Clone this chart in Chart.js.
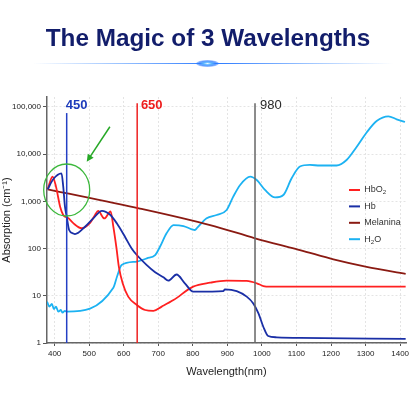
<!DOCTYPE html>
<html><head><meta charset="utf-8">
<script src="https://cdn.jsdelivr.net/npm/chart.js@4.4.1/dist/chart.umd.min.js"></script>
<style>
html,body{margin:0;padding:0;background:#fff;}
#wrap{position:relative;width:416px;height:416px;overflow:hidden;background:#fff;}
#title{position:absolute;left:0;top:23px;width:416px;text-align:center;font:bold 24.3px "Liberation Sans",Arial,sans-serif;color:#121d6b;line-height:30px;white-space:nowrap;}
#glow{position:absolute;left:33px;top:63px;width:360px;height:1px;background:linear-gradient(90deg,rgba(90,160,255,0),rgba(80,150,255,0.6) 25%,rgba(40,120,255,1) 50%,rgba(80,150,255,0.6) 75%,rgba(90,160,255,0));}
#glowdot{position:absolute;left:196px;top:60px;width:23px;height:7px;border-radius:50%;background:radial-gradient(ellipse at center,rgba(235,250,255,1) 0%,rgba(90,180,255,1) 25%,rgba(40,120,255,0.75) 50%,rgba(40,120,255,0) 90%);}
canvas{position:absolute;left:0;top:0;}
</style></head>
<body>
<div id="wrap">
<canvas id="c" width="416" height="416"></canvas>
<div id="title">The Magic of 3 Wavelengths</div>
<div id="glow"></div><div id="glowdot"></div>
</div>
<script>
// ---- data ----
const wavelengthTicks = [400,500,600,700,800,900,1000,1100,1200,1300,1400];
const absorptionTicks = [1,10,100,1000,10000,100000];

const hbo2Wavelength = [380,394,404,416,425,440,454,478,502,517,526,544,562,570,579,586,597,613,638,662,686,710,744,801,850,898,956,985,1004,1023,1081,1255,1416];
const hbo2Absorption = [1800,3350,2050,770,515,440,345,270,345,515,625,435,610,290,103,41,18.4,9.6,6.4,5.0,4.8,5.9,8.1,15.6,18.9,20.9,20.6,18.4,16.1,15.6,15.6,15.6,15.6];

const hbWavelength = [380,396,420,425,430,435,442,454,459,488,512,537,560,580,604,623,638,666,691,715,729,753,777,801,811,888,893,927,956,975,990,1004,1018,1043,1110,1416];
const hbAbsorption = [1800,2930,3900,2050,770,475,247,208,203,290,437,630,525,343,176,100,73,45,31.4,24.6,20.9,28.2,18.4,12.2,12.2,12.6,13.7,12.6,9.6,6.9,4.26,2.21,1.41,1.32,1.28,1.22];

const melaninWavelength = [380,647,850,980,1052,1110,1207,1303,1416];
const melaninAbsorption = [1800,705,315,165,119,93,59,41,29];

const h2oWavelength = [378,385,392,398,404,411,418,423,430,435,570,581,594,638,667,691,705,724,744,773,797,806,813,840,869,898,917,937,966,985,1009,1038,1062,1086,1110,1139,1168,1216,1245,1274,1303,1332,1366,1390,1414];
const h2oAbsorption = [7.5,5.9,6.7,5.2,5.9,4.6,5.0,4.4,4.8,4.6,14.8,26,45,53,62,73,109,210,315,300,256,247,277,437,514,656,1254,2220,3330,2830,1740,1210,1360,3080,5470,5890,5740,5740,7500,14150,28700,50250,63200,54600,47900];

const markerLabels = ['450','650','980'];
const markerWavelength = [435,639,980];
const markerTop = [74000,120000,120000];
const markerLabelLevel = 110000;

const seriesLabels = ['HbO₂','Hb','Melanina','H₂O'];
const circleCenter = [435,1740];
const arrowFrom = [560,38000];
const arrowTo = [493,6900];

// ---- styles ----
const seriesColors = ['#ff2020','#1a2fa6','#8a1a12','#1cb2f2'];
const markerColors = ['#2440c4','#ee2020','#666666'];
const markerTextColors = ['#1d3bbb','#ee1c1c','#2a2a2a'];
const markerWeights = ['bold','bold','normal'];
const markerShift = [-1,3.7,5];
const SANS = '"Liberation Sans",Arial,sans-serif';

function pts(xs, ys){ return xs.map((v,i)=>({x:v,y:ys[i]})); }
const seriesData = [
  pts(hbo2Wavelength,hbo2Absorption),
  pts(hbWavelength,hbAbsorption),
  pts(melaninWavelength,melaninAbsorption),
  pts(h2oWavelength,h2oAbsorption)
];
const seriesOrder = [2,1,3,4];

const datasets = seriesLabels.map((lab,i)=>({
  label: lab, data: seriesData[i], borderColor: seriesColors[i], backgroundColor: seriesColors[i],
  borderWidth: 1.8, pointRadius: 0, fill: false, tension: 0.4, cubicInterpolationMode: 'monotone', order: seriesOrder[i]
}));
markerLabels.forEach((lab,i)=>{
  datasets.push({label:'marker'+lab, data:[{x:markerWavelength[i],y:1},{x:markerWavelength[i],y:markerTop[i]}],
    borderColor: markerColors[i], borderWidth: 1.5, pointRadius: 0, fill:false, tension:0, order: 0});
});

function drawRich(ctx, text, x, y, size, fam){
  let cx = x;
  for (const ch of text){
    const s = '₀₁₂₃₄₅₆₇₈₉'.indexOf(ch);
    if (s >= 0){
      ctx.font = (size*0.68)+'px '+fam;
      ctx.fillText(String(s), cx, y+size*0.3);
      cx += ctx.measureText(String(s)).width;
    } else {
      ctx.font = size+'px '+fam;
      ctx.fillText(ch, cx, y);
      cx += ctx.measureText(ch).width;
    }
  }
}

const overlay = {
  id:'overlay',
  afterDatasetsDraw(chart){
    const {ctx, chartArea, scales:{x, y}} = chart;
    ctx.save();
    markerLabels.forEach((lab,i)=>{
      ctx.font = markerWeights[i]+' 13px '+SANS;
      ctx.fillStyle = markerTextColors[i];
      ctx.textAlign = 'left'; ctx.textBaseline = 'middle';
      ctx.fillText(lab, x.getPixelForValue(markerWavelength[i]) + markerShift[i], y.getPixelForValue(markerLabelLevel));
    });
    ctx.strokeStyle = '#3cb83c'; ctx.lineWidth = 1.3;
    ctx.beginPath();
    ctx.ellipse(x.getPixelForValue(circleCenter[0]), y.getPixelForValue(circleCenter[1]), 23, 26, 0, 0, Math.PI*2);
    ctx.stroke();
    const x1 = x.getPixelForValue(arrowFrom[0]), y1 = y.getPixelForValue(arrowFrom[1]);
    const x2 = x.getPixelForValue(arrowTo[0]), y2 = y.getPixelForValue(arrowTo[1]);
    const ang = Math.atan2(y2-y1, x2-x1);
    ctx.strokeStyle = '#26a826'; ctx.fillStyle = '#26a826'; ctx.lineWidth = 1.5;
    ctx.beginPath(); ctx.moveTo(x1,y1); ctx.lineTo(x2-5*Math.cos(ang), y2-5*Math.sin(ang)); ctx.stroke();
    ctx.beginPath();
    ctx.moveTo(x2,y2);
    ctx.lineTo(x2-8*Math.cos(ang-0.45), y2-8*Math.sin(ang-0.45));
    ctx.lineTo(x2-8*Math.cos(ang+0.45), y2-8*Math.sin(ang+0.45));
    ctx.closePath(); ctx.fill();
    const lx = chartArea.right - 57, ly = chartArea.top + 93, gap = 16.4;
    seriesLabels.forEach((lab,i)=>{
      const yy = ly + i*gap;
      ctx.strokeStyle = seriesColors[i]; ctx.lineWidth = 2;
      ctx.beginPath(); ctx.moveTo(lx, yy); ctx.lineTo(lx+11, yy); ctx.stroke();
      ctx.fillStyle = '#333'; ctx.textAlign='left'; ctx.textBaseline='middle';
      drawRich(ctx, lab, lx+15.3, yy, 9, SANS);
    });
    ctx.restore();
  }
};

new Chart(document.getElementById('c'), {
  type: 'line',
  data: { datasets },
  options: {
    responsive: false, animation: false,
    layout: { padding: { top: 97, right: 10, bottom: 33, left: 0 } },
    plugins: { legend: { display: false }, tooltip: { enabled: false }, title: { display: false } },
    scales: {
      x: {
        type: 'linear', min: 378, max: 1417,
        afterBuildTicks(s){ s.ticks = wavelengthTicks.map(v=>({value:v})); },
        afterFit(s){ s.height = 40; },
        ticks: { font: { family: SANS, size: 8 }, color: '#222', padding: 3, maxRotation: 0, autoSkip: false,
          callback: v => String(v) },
        grid: { color: '#e4e4e4', lineWidth: 1, tickColor: '#555', tickLength: 3, drawTicks: true },
        border: { display: true, color: '#666', width: 1.5, dash: [2,2] },
        title: { display: true, text: 'Wavelength(nm)', font: { family: SANS, size: 11 }, color: '#222', padding: { top: 4, bottom: 4 } }
      },
      y: {
        type: 'logarithmic', min: 1, max: 162000,
        afterBuildTicks(s){ s.ticks = absorptionTicks.map(v=>({value:v})); },
        afterFit(s){ s.width = 47; },
        ticks: { font: { family: SANS, size: 8 }, color: '#222', padding: 2,
          callback: v => String(v).replace(/\B(?=(\d{3})+(?!\d))/g, ',') },
        grid: { color: '#e4e4e4', lineWidth: 1, tickColor: '#555', tickLength: 4, drawTicks: true },
        border: { display: true, color: '#666', width: 1.5, dash: [2,2] },
        title: { display: true, text: 'Absorption (cm⁻¹)', font: { family: SANS, size: 11 }, color: '#222', padding: { top: 0, bottom: 2 } }
      }
    }
  },
  plugins: [overlay]
});
</script>
</body></html>
